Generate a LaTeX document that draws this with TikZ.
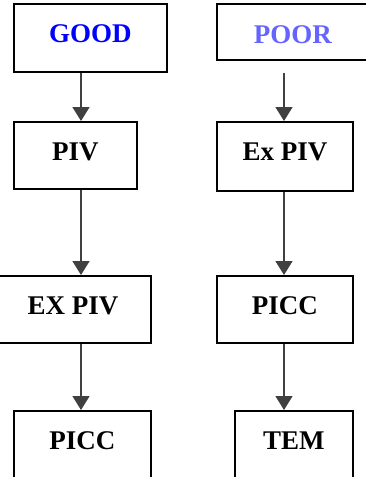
\documentclass[tikz,border=0pt]{standalone}
\usepackage{fontspec}
\setmainfont{Liberation Serif}
\usetikzlibrary{arrows.meta}
\definecolor{goodblue}{RGB}{0,0,255}
\definecolor{poorblue}{RGB}{100,100,255}
\begin{document}
\begin{tikzpicture}[x=1pt,y=-1pt,
  box/.style={draw=black, line width=1.8pt, fill=white, anchor=north west,
    inner xsep=0pt, inner ysep=0pt, text height=39pt,
    font=\fontsize{27}{27}\selectfont\bfseries},
  conn/.style={draw=black!75, line width=1.5pt, -{Triangle[width=17pt,length=14pt]}}]
\useasboundingbox (0,0) rectangle (366,477);
\clip (0,0) rectangle (366,477);
\node[box, minimum width=153pt, text depth=29pt, text=goodblue] (good) at (13,3) {GOOD};
\node[box, minimum width=152pt, text depth=16pt, text=poorblue, text height=40pt] (poor) at (216,3) {POOR};
\node[box, minimum width=123pt, text depth=28pt] (piv) at (13,121) {PIV};
\node[box, minimum width=136pt, text depth=30pt] (exr) at (216,121) {Ex PIV};
\node[box, minimum width=156pt, text depth=28pt] (exl) at (-6,275) {EX PIV};
\node[box, minimum width=136pt, text depth=28pt] (piccr) at (216,275) {PICC};
\node[box, minimum width=137pt, text depth=36pt] (piccl) at (13,410) {PICC};
\node[box, minimum width=118pt, text depth=36pt] (tem) at (234,410) {TEM};
\coordinate (lx) at (81,0);
\coordinate (rx) at (284,0);
\draw[conn] (good.south -| lx) -- (piv.north -| lx);
\draw[conn] (piv.south -| lx) -- (exl.north -| lx);
\draw[conn] (exl.south -| lx) -- (piccl.north -| lx);
\draw[conn, shorten <=12pt] (poor.south -| rx) -- (exr.north -| rx);
\draw[conn] (exr.south -| rx) -- (piccr.north -| rx);
\draw[conn] (piccr.south -| rx) -- (tem.north -| rx);
\end{tikzpicture}
\end{document}
